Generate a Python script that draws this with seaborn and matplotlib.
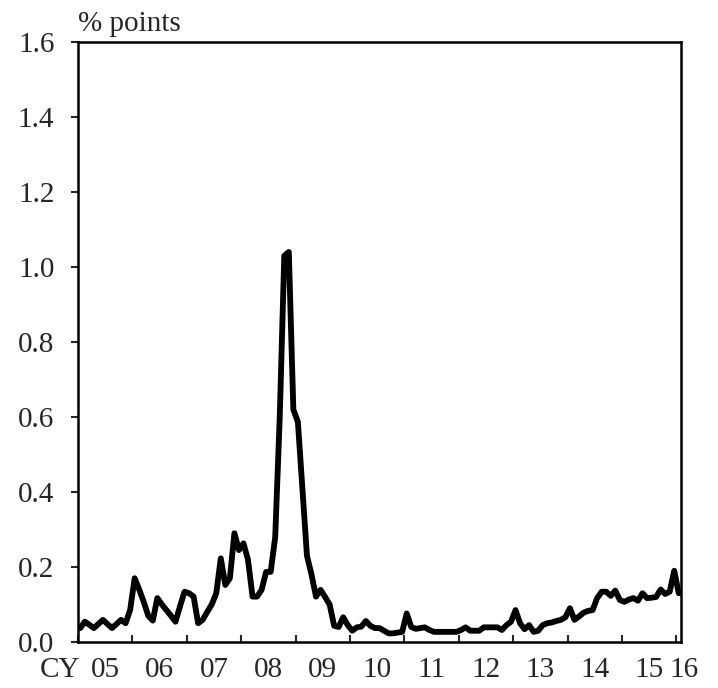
import numpy as np
import pandas as pd
import matplotlib
matplotlib.use('Agg')
import matplotlib.pyplot as plt
import seaborn as sns

# monthly spread, Jan 2005 - Jan 2016 (% points)
y2005 = [0.037, 0.054, 0.046, 0.037, 0.048, 0.059, 0.048, 0.037, 0.048, 0.059, 0.050, 0.085]
y2006 = [0.170, 0.140, 0.107, 0.070, 0.057, 0.117, 0.100, 0.085, 0.070, 0.054, 0.095, 0.134]
y2007 = [0.130, 0.121, 0.050, 0.059, 0.080, 0.100, 0.130, 0.223, 0.152, 0.170, 0.290, 0.245]
y2008 = [0.263, 0.219, 0.121, 0.121, 0.139, 0.187, 0.187, 0.280, 0.600, 1.030, 1.040, 0.620]
y2009 = [0.587, 0.410, 0.230, 0.180, 0.121, 0.139, 0.120, 0.100, 0.043, 0.040, 0.066, 0.045]
y2010 = [0.030, 0.039, 0.041, 0.056, 0.043, 0.037, 0.037, 0.030, 0.023, 0.023, 0.025, 0.027]
y2011 = [0.076, 0.040, 0.035, 0.037, 0.039, 0.032, 0.027, 0.027, 0.027, 0.027, 0.027, 0.027]
y2012 = [0.032, 0.039, 0.030, 0.030, 0.030, 0.039, 0.039, 0.039, 0.039, 0.032, 0.045, 0.054]
y2013 = [0.085, 0.050, 0.034, 0.045, 0.027, 0.030, 0.045, 0.050, 0.052, 0.056, 0.059, 0.066]
y2014 = [0.090, 0.059, 0.068, 0.078, 0.083, 0.085, 0.117, 0.134, 0.134, 0.123, 0.137, 0.112]
y2015 = [0.107, 0.113, 0.117, 0.110, 0.130, 0.117, 0.118, 0.120, 0.140, 0.128, 0.134, 0.190]
y2016 = [0.130]

year_labels = ['05', '06', '07', '08', '09', '10', '11', '12', '13', '14', '15']

spread = y2005 + y2006 + y2007 + y2008 + y2009 + y2010 + y2011 + y2012 + y2013 + y2014 + y2015 + y2016
df = pd.DataFrame({'month': np.arange(len(spread)) + 0.5, 'spread': spread})

sns.set_style('white')
plt.rcParams['font.family'] = ['Liberation Serif', 'DejaVu Serif']

fig = plt.figure(figsize=(7.18, 6.88), dpi=100)
ax = fig.add_axes([0.1086, 0.0669, 0.8399, 0.8721])

sns.lineplot(x='month', y='spread', data=df, ax=ax, color='black', linewidth=4.2)

n = len(spread)
ax.set_xlim(0, n)
ax.set_ylim(0, 1.6)
ax.set_xlabel('')
ax.set_ylabel('')

# year boundaries as ticks, year names between them
ax.set_xticks(np.arange(0, n, 12))
ax.set_xticklabels([])
ax.set_xticks(np.arange(6, 12 * len(year_labels), 12), minor=True)
ax.set_xticklabels(year_labels, minor=True)
ax.tick_params(axis='x', which='major', direction='in', length=5, width=1.5, bottom=True)
ax.tick_params(axis='x', which='minor', length=0, pad=11, labelsize=21)

ax.set_yticks(np.arange(0, 1.61, 0.2))
ax.set_yticklabels(['%.1f' % v for v in np.arange(0, 1.61, 0.2)])
ax.tick_params(axis='y', direction='out', length=5, width=1.5, left=True, pad=12, labelsize=21)

for s in ax.spines.values():
    s.set_visible(True)
    s.set_color('black')
    s.set_linewidth(1.8)

trans = ax.get_xaxis_transform()
ax.text(0.6, -0.025, 'CY', transform=trans, ha='right', va='top', fontsize=21)
ax.text(n + 0.7, -0.025, '16', transform=trans, ha='center', va='top', fontsize=21)
ax.text(0, 1.008, '% points', transform=ax.transAxes, ha='left', va='bottom', fontsize=21)

fig.savefig('out.png', dpi=100)
